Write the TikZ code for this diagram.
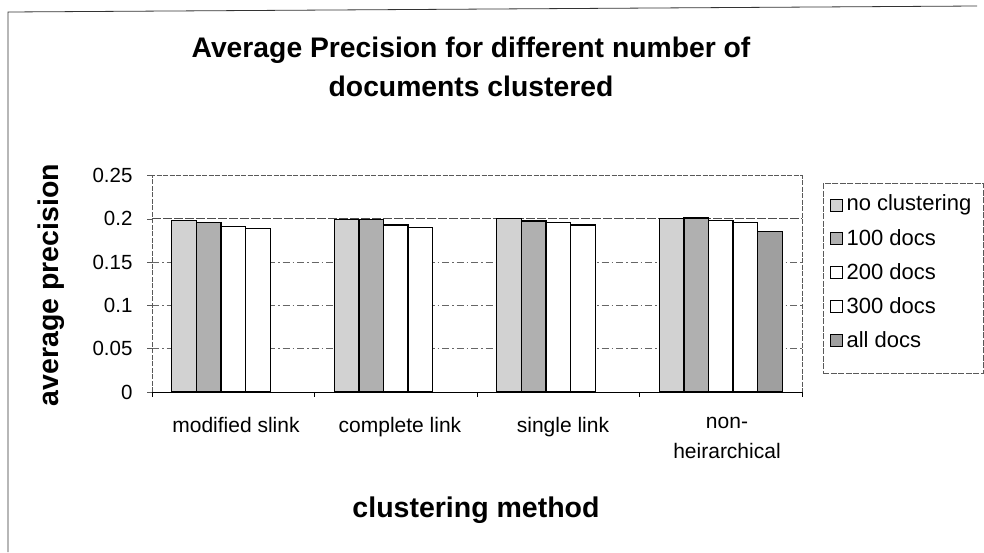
\documentclass[tikz,border=0pt]{standalone}
\usepackage{fontspec}
\setmainfont{Liberation Sans}
\begin{document}
\begin{tikzpicture}[x=1pt,y=-1pt,
  barbox/.style={draw=black, line width=1.3pt},
  gridline/.style={gray!80!black, line width=0.6pt, dash pattern=on 7pt off 3pt on 1.5pt off 3pt},
  topgrid/.style={gray!60!black, line width=0.8pt, dash pattern=on 9pt off 2pt},
  plotframe/.style={gray!70!black, line width=0.6pt, dash pattern=on 5pt off 1.5pt},
  ticklab/.style={font=\fontsize{20.5}{24}\selectfont, anchor=east},
  catlab/.style={font=\fontsize{21}{30}\selectfont, align=center, anchor=north},
  axtitle/.style={font=\bfseries\fontsize{28.5}{32}\selectfont},
  legtext/.style={font=\fontsize{22}{24}\selectfont, anchor=west},
  swatch/.style={draw=black, line width=0.6pt}
]
\useasboundingbox (0,0) rectangle (984,552);
% outer frame (cut at right and bottom)
\coordinate (f1) at (8,552);
\coordinate (f2) at (8,12);
\coordinate (f3) at (977,6);
\draw[line width=0.8pt, gray!40!black] (f1) -- (f2) -- (f3);

% title
\node[font=\bfseries\fontsize{28.3}{39}\selectfont, align=center] (title) at (471,67)
  {Average Precision for different number of\\documents clustered};

% plot area
\coordinate (pa) at (152,175.5);
\coordinate (pb) at (802,392);
% gridlines
\foreach \v/\n in {0.05/g1,0.1/g2,0.15/g3}{
  \pgfmathsetmacro{\yy}{392-\v*866}
  \coordinate (\n l) at (152,\yy);
  \coordinate (\n r) at (802,\yy);
  \draw[gridline] (\n l) -- (\n r);
}
\coordinate (g4l) at (152,218.8);
\coordinate (g4r) at (802,218.8);
\draw[topgrid] (g4l) -- (g4r);
\draw[plotframe] (152,392) -- (pa) -- (802,175.5) -- (802,392);

% bars
\def\bw{24.6}
\foreach \g/\vals in {0/{0.198,0.1955,0.191,0.189},1/{0.1994,0.1994,0.1928,0.190},2/{0.2006,0.1975,0.1955,0.193},3/{0.2006,0.201,0.198,0.196,0.185}}{
  \foreach \v [count=\j from 0] in \vals {
    \pgfmathsetmacro{\xa}{152+\g*162.5+19.75+\j*\bw}
    \pgfmathsetmacro{\xb}{\xa+\bw}
    \pgfmathsetmacro{\yt}{392-\v*866}
    \ifcase\j \def\fc{gray!35}\or \def\fc{gray!62}\or \def\fc{white}\or \def\fc{white}\else \def\fc{gray!75}\fi
    \coordinate (b\g\j a) at (\xa,392);
    \coordinate (b\g\j b) at (\xb,\yt);
    \draw[barbox, fill=\fc] (b\g\j a) rectangle (b\g\j b);
  }
}

% x axis
\coordinate (xa0) at (152,392);
\coordinate (xa1) at (802,392);
\draw[line width=0.9pt] (xa0) -- (xa1);
\foreach \i in {0,...,4}{
  \pgfmathsetmacro{\xx}{152+\i*162.5}
  \coordinate (t\i a) at (\xx,392);
  \coordinate (t\i b) at (\xx,397);
  \draw[line width=0.6pt] (t\i a) -- (t\i b);
}
% y ticks
\foreach \v/\lab/\n in {0/0/y0,0.05/0.05/y1,0.1/0.1/y2,0.15/0.15/y3,0.2/0.2/y4,0.25/0.25/y5}{
  \pgfmathsetmacro{\yy}{392-\v*866}
  \coordinate (\n a) at (147,\yy);
  \coordinate (\n b) at (152,\yy);
  \draw[line width=0.6pt, gray!70!black] (\n a) -- (\n b);
  \node[ticklab] (\n lab) at (136,\yy) {\lab};
}

% category labels
\node[catlab] (c1) at (236,414) {modified slink};
\node[catlab] (c2) at (400,414) {complete link};
\node[catlab] (c3) at (563,414) {single link};
\node[catlab] (c4) at (727,414) {non-\\heirarchical};

% axis titles
\node[axtitle, rotate=90] (ytitle) at (51,285) {average precision};
\node[axtitle] (xtitle) at (476,510) {clustering method};

% legend
\node[draw=gray!70!black, line width=0.6pt, dash pattern=on 6pt off 1.5pt, minimum width=160pt, minimum height=190pt, anchor=north west] (legend) at (823,183) {};
\foreach \y/\t/\fc/\n in {205/no clustering/gray!35/l1, 238/100 docs/gray!62/l2, 272/200 docs/white/l3, 306/300 docs/white/l4, 340/all docs/gray!75/l5}{
  \coordinate (\n a) at (830,\y-6);
  \coordinate (\n b) at (842,\y+6);
  \draw[swatch, fill=\fc] (\n a) rectangle (\n b);
  \node[legtext] (\n t) at (843,\y) {\t};
}
\end{tikzpicture}
\end{document}
